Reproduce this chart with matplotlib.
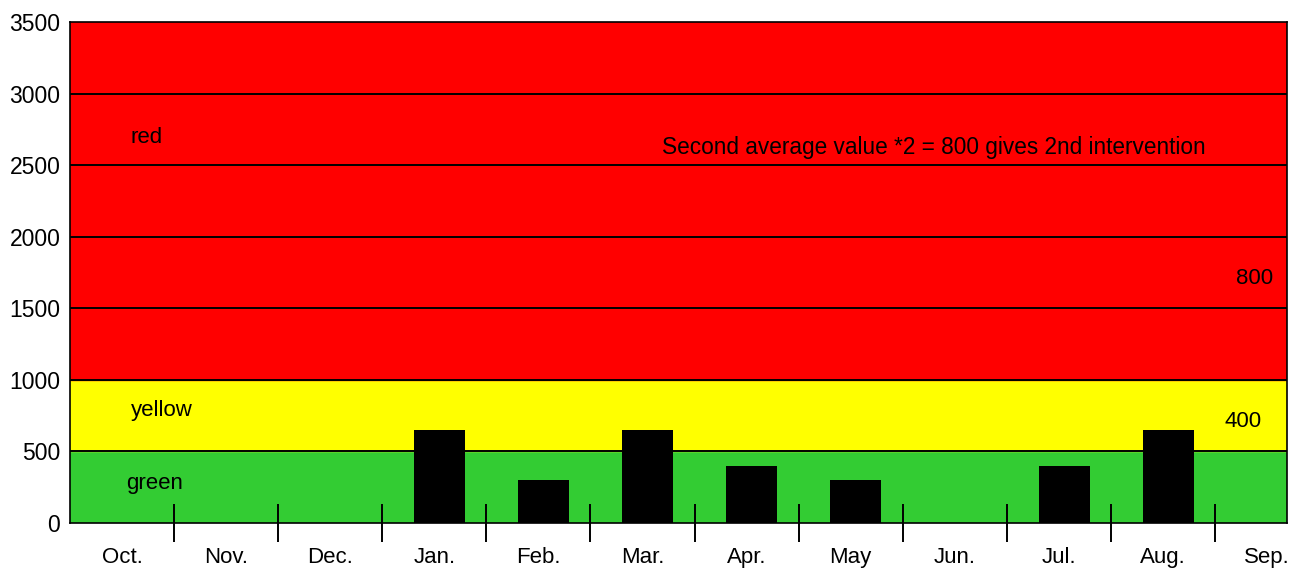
import matplotlib.pyplot as plt

plt.rcParams['font.family'] = ['Liberation Sans', 'DejaVu Sans']

months = ['Oct.', 'Nov.', 'Dec.', 'Jan.', 'Feb.', 'Mar.', 'Apr.',
          'May', 'Jun.', 'Jul.', 'Aug.', 'Sep.']
values = [0, 0, 0, 650, 300, 650, 400, 300, 0, 400, 650, 0]
bands = [(0, 500, '#33cc33'), (500, 1000, '#ffff00'), (1000, 3500, '#ff0000')]
yticks = [0, 500, 1000, 1500, 2000, 2500, 3000, 3500]


def plot_chart():
    fig = plt.figure(figsize=(12.96, 5.71), dpi=100)
    ax = fig.add_axes([0.054, 0.084, 0.939, 0.8775])

    for lo, hi, col in bands:
        ax.axhspan(lo, hi, color=col, zorder=0)
    for y in yticks[1:-1]:
        ax.axhline(y, color='black', lw=1.4, zorder=1)

    x = list(range(len(months)))
    shown = [(i, v) for i, v in zip(x, values) if v > 0]
    ax.bar([i + 0.05 for i, v in shown], [v for i, v in shown], width=0.49,
           color='black', zorder=2)

    ax.set_xlim(-0.5, 11.19)
    ax.set_ylim(0, 3500)

    ax.set_yticks(yticks)
    ax.tick_params(axis='y', length=0, pad=7, labelsize=16.5)

    ax.set_xticks([i + 0.5 for i in x[:-1]])
    ax.set_xticklabels([])
    ax.tick_params(axis='x', which='major', direction='inout', length=27,
                   width=1.4, color='black')
    ax.set_xticks(x, minor=True)
    ax.set_xticklabels(months, minor=True)
    ax.tick_params(axis='x', which='minor', length=0, pad=17, labelsize=16)

    for s in ax.spines.values():
        s.set_linewidth(1.2)

    fs = 16
    ax.text(0.24, 2694, 'red', ha='center', va='center', fontsize=fs)
    ax.text(0.38, 785, 'yellow', ha='center', va='center', fontsize=fs)
    ax.text(0.31, 278, 'green', ha='center', va='center', fontsize=fs)
    ax.text(7.8, 2625, 'Second average value *2 = 800 gives 2nd intervention',
            ha='center', va='center', fontsize=16.3)
    ax.text(10.88, 1708, '800', ha='center', va='center', fontsize=fs)
    ax.text(10.77, 708, '400', ha='center', va='center', fontsize=fs)

    fig.savefig('out.png', dpi=100)


if __name__ == "__main__":
    plot_chart()
